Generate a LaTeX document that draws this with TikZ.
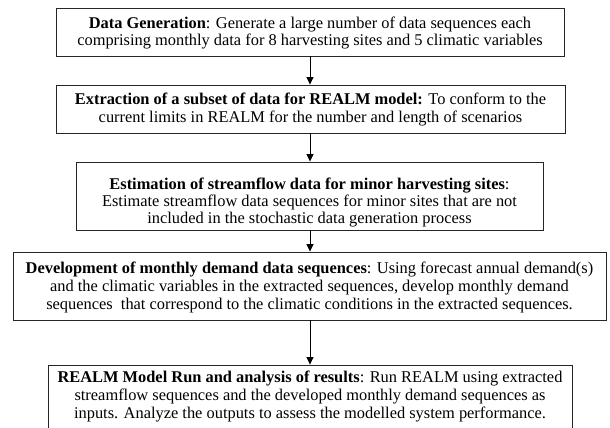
\documentclass[tikz,border=0pt]{standalone}
\usepackage{fontspec}
\setmainfont{Liberation Serif}
\usetikzlibrary{arrows.meta}
\begin{document}
\begin{tikzpicture}[x=1pt,y=-1pt,
  stepbox/.style={draw=black!85, line width=0.9pt, rectangle, inner sep=0pt},
  steptext/.style={inner sep=0pt, align=center, font=\fontsize{16.4}{18}\selectfont},
  tighttext/.style={steptext, font=\fontsize{16.4}{17}\selectfont},
  flow/.style={draw=black, line width=0.8pt, -{Triangle[length=7.5pt,width=7pt]}}]
\useasboundingbox (0,0) rectangle (610,428);
\clip (0,0) rectangle (610,428);
% boxes
\node[stepbox, minimum width=508pt, minimum height=48pt] (b1) at (310,32) {};
\node[stepbox, minimum width=509pt, minimum height=48pt] (b2) at (310.5,109) {};
\node[stepbox, minimum width=467pt, minimum height=68pt] (b3) at (309.5,196) {};
\node[stepbox, minimum width=593pt, minimum height=68pt] (b4) at (309.5,286) {};
\node[stepbox, minimum width=524pt, minimum height=68pt] (b5) at (310,399) {};
% texts
\node[tighttext] (t1) at (310,32.6)
  {\textbf{Data Generation}: Generate a large number of data sequences each\\
   comprising monthly data for 8 harvesting sites and 5 climatic variables};
\node[steptext] (t2) at (310.5,109.2)
  {\textbf{Extraction of a subset of data for REALM model:} To conform to the\\
   current limits in REALM for the number and length of scenarios};
\node[tighttext] (t3) at (309.5,202.2)
  {\textbf{Estimation of streamflow data for minor harvesting sites}:\\
   Estimate streamflow data sequences for minor sites that are not\\
   included in the stochastic data generation process};
\node[steptext] (t4) at (309.5,287.2)
  {\textbf{Development of monthly demand data sequences}: Using forecast annual demand(s)\\
   and the climatic variables in the extracted sequences, develop monthly demand\\
   sequences\ \ that correspond to the climatic conditions in the extracted sequences.};
\node[steptext] (t5) at (310,396.2)
  {\textbf{REALM Model Run and analysis of results}: Run REALM using extracted\\
   streamflow sequences and the developed monthly demand sequences as\\
   inputs. Analyze the outputs to assess the modelled system performance.};
% connectors
\draw[flow] (b1.south -| 310,0) -- (b2.north -| 310,0);
\draw[flow] (b2.south -| 310,0) -- (b3.north -| 310,0);
\draw[flow] (b3.south -| 310,0) -- (b4.north -| 310,0);
\draw[flow] (b4.south -| 310,0) -- (b5.north -| 310,0);
\end{tikzpicture}
\end{document}
